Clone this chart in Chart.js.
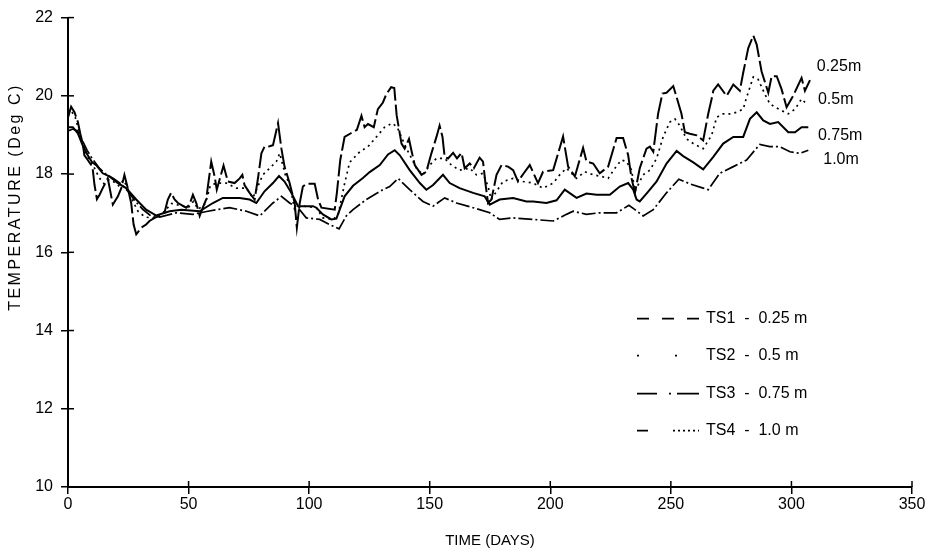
<!DOCTYPE html>
<html>
<head>
<meta charset="utf-8">
<script src="https://cdn.jsdelivr.net/npm/chart.js@4.4.1/dist/chart.umd.min.js"></script>
<style>
html,body{margin:0;padding:0;background:#fff;}
#wrap{width:927px;height:556px;}
</style>
</head>
<body>
<div id="wrap"><canvas id="c" width="927" height="556"></canvas></div>
<script>
// ---- data: [day, temperature (deg C)] ----
const ts1 = [[0,19.45],[1.3,19.72],[2.7,19.58],[4.1,19.33],[5.1,19.03],[6.1,18.78],[6.8,18.48],[8.2,18.36],[9.6,18.23],[10.3,18.10],
[11,17.72],[12,17.36],[13.1,17.47],[14.4,17.64],[16.5,17.89],[18.6,17.22],[20.7,17.43],[22.1,17.64],[23.4,17.98],[24.8,17.64],
[26.2,17.26],[27.2,16.71],[28.3,16.46],[30.4,16.63],[32.4,16.71],[33.8,16.80],[35.9,16.88],[38,16.93],[40,17.01],[41.4,17.35],
[42.8,17.52],[44.2,17.35],[45.6,17.26],[49,17.14],[50.4,17.22],[51.8,17.47],[53.2,17.26],[54.6,16.93],[55.9,17.14],[57.3,17.35],
[59.4,18.32],[60.8,17.94],[61.7,17.60],[64.5,18.22],[66.3,17.81],[69.1,17.77],[71.2,17.89],[72.3,17.98],[73.2,17.72],[75.3,17.52],
[77.4,17.35],[78.8,17.90],[80.2,18.53],[81.5,18.70],[83.6,18.71],[85,18.74],[87.1,19.30],[88.5,18.65],[89.8,18.19],[91.9,17.77],
[94,17.26],[94.9,16.63],[96.1,17.26],[97.4,17.68],[98.8,17.75],[102.3,17.75],[103.7,17.35],[105.1,17.14],[110.6,17.09],[111.5,17.52],
[112.9,18.36],[114.7,18.95],[117.5,19.05],[119.8,19.13],[121.7,19.49],[123,19.20],[124.4,19.28],[126.8,19.20],[128.5,19.66],[130.6,19.83],
[132,20.04],[134,20.22],[135.3,20.20],[136.3,19.50],[138.3,18.78],[139.6,18.65],[141.4,18.90],[142.4,18.61],[143.8,18.23],[146.6,17.98],
[148.6,18.06],[150.7,18.53],[152.8,18.95],[154.1,19.24],[155.3,18.95],[156.2,18.44],[157.6,18.40],[159.7,18.54],[161.3,18.40],[163.2,18.54],
[164.5,18.15],[166.6,18.27],[168.3,18.15],[170.7,18.42],[172.1,18.32],[173.2,17.72],[174.2,17.26],[175.6,17.35],[177.7,17.98],[179.8,18.23],
[182.5,18.19],[184.6,18.10],[186.6,17.81],[189,18.02],[191.5,18.23],[194.9,17.77],[197,18.06],[201.2,18.10],[205.3,18.96],[207.4,18.19],
[210.2,17.94],[213.6,18.67],[215,18.32],[217.8,18.27],[220.5,18.02],[224,18.19],[227.5,18.92],[230.2,18.92],[232.3,18.48],[233.7,17.89],
[235.1,17.52],[237.1,18.15],[239.9,18.65],[241.3,18.70],[242.7,18.57],[244.7,19.54],[246.5,20.06],[248.2,20.08],[251,20.25],[252.4,19.96],
[254.4,19.54],[255.8,19.07],[257.9,19.03],[260.7,18.99],[263.4,18.86],[265.5,19.54],[266.9,19.92],[267.6,20.13],[269.6,20.29],[273.1,20.00],
[275.9,20.29],[278.6,20.13],[280,20.59],[282.1,21.22],[284.2,21.54],[285.6,21.31],[287.6,20.63],[290.4,20.08],[291.8,20.50],[293.9,20.50],
[295.9,20.17],[298,19.71],[300.7,20.00],[304.2,20.46],[305.6,20.13],[307.7,20.40]];

const ts2 = [[0,19.5],[1.5,19.6],[3,19.45],[5,19.0],[7,18.6],[9,18.35],[11,18.15],[13,17.9],[15,17.75],[17,17.85],
[19,17.8],[21,17.7],[23,17.85],[25,17.6],[27,17.3],[29,17.05],[32,16.9],[35,16.88],[38,16.92],[40,17.05],
[43,17.25],[46,17.2],[50,17.15],[52,17.3],[54,17.1],[57,17.25],[59,17.7],[61.5,17.77],[65.6,17.77],[69.8,17.64],
[74,17.64],[76.7,17.39],[80.8,17.98],[84.3,18.19],[86.4,18.32],[87.8,18.53],[90.5,17.89],[91.7,17.81],[94,17.09],[97.4,17.18],
[103,17.14],[105.7,16.88],[109.9,16.84],[112,16.95],[114.5,17.7],[116.8,18.3],[121,18.57],[124.4,18.70],[127.9,18.95],[131.3,19.2],
[134.5,19.3],[136.5,19.2],[140,18.7],[144.5,18.15],[147.2,17.98],[150,18.23],[152.8,18.40],[156.2,18.40],[159,18.23],[162.4,18.10],
[166.6,18.15],[169.4,17.98],[172.1,18.02],[174.2,17.68],[175.5,17.35],[180.4,17.81],[184.6,17.89],[188.7,17.81],[192.9,17.77],[197,17.64],
[201.2,17.77],[203.9,17.98],[206.7,18.15],[210.9,17.89],[214.3,18.06],[217.8,17.98],[221.2,17.94],[224,17.89],[226.8,18.15],[229.5,18.36],
[231.6,18.32],[233.7,18.10],[235.1,17.56],[238.5,17.98],[241.3,18.10],[244.1,18.40],[246.8,18.95],[249.6,19.33],[251.7,19.41],[253.7,19.24],
[256.5,18.9],[259.3,18.78],[263.4,18.65],[266.9,18.99],[269,19.45],[271.7,19.54],[274.5,19.54],[277.3,19.58],[280,19.66],[281.4,19.96],
[284.2,20.48],[286.2,20.42],[289,20.04],[291.1,19.79],[295,19.65],[298.7,19.54],[301.5,19.66],[304.2,19.92],[306.3,19.79]];

const ts3 = [[0,19.2],[2,19.2],[4,19.05],[6,18.75],[8,18.5],[10,18.3],[11.7,18.23],[14.4,18.02],[17.2,17.94],[20.7,17.77],
[24.1,17.64],[28.3,17.35],[32.4,17.09],[36.6,16.94],[42.1,17.05],[47,17.09],[54.6,17.05],[60.1,17.26],[64.2,17.39],[67,17.39],
[71.2,17.39],[75.3,17.35],[78.1,17.26],[81.5,17.56],[85,17.77],[87.5,17.95],[89.8,17.81],[92.6,17.52],[95.4,17.18],[98.8,17.18],
[101.6,17.18],[103,17.14],[105.7,16.97],[109.2,16.84],[111.3,16.86],[114.7,17.43],[118.2,17.7],[122.3,17.9],[125.1,18.05],[129.3,18.23],
[132.7,18.5],[135.5,18.61],[137.6,18.48],[141.7,18.10],[145.9,17.77],[148.6,17.60],[151.4,17.72],[155.5,17.98],[158.3,17.77],[162.4,17.64],
[168,17.52],[172.8,17.43],[174.9,17.22],[179,17.35],[184.6,17.39],[190.1,17.30],[192.9,17.30],[198.4,17.26],[202.6,17.33],[206,17.60],
[210.9,17.39],[215,17.50],[219.2,17.47],[224.7,17.47],[228.8,17.68],[232.3,17.77],[234.4,17.60],[235.8,17.35],[237.1,17.30],[240.6,17.55],
[244.1,17.81],[248.2,18.27],[252.4,18.59],[255.1,18.46],[259.3,18.30],[263.4,18.12],[267.6,18.44],[271.7,18.78],[275.9,18.95],[280,18.95],
[282.8,19.41],[285.6,19.58],[288.3,19.37],[291.1,19.28],[294.5,19.33],[298.7,19.07],[301.5,19.07],[304.2,19.20],[307,19.20]];

const ts4 = [[0,19.1],[2,19.15],[4,19.1],[6,18.85],[8,18.6],[10,18.4],[13,18.15],[16,17.98],[19,17.88],[22,17.75],
[25,17.55],[28,17.3],[31,17.1],[34,16.95],[38,16.9],[44.9,17.01],[51.8,16.97],[58,17.05],[61.5,17.09],[67,17.14],
[74,17.05],[79.5,16.93],[85,17.26],[88.5,17.43],[91.9,17.26],[95.4,17.14],[98.8,16.88],[104.4,16.84],[108.5,16.71],[112.4,16.6],
[115.4,16.93],[118.2,17.09],[123.7,17.35],[130.6,17.60],[133.4,17.68],[136.9,17.89],[141.7,17.60],[147.2,17.30],[151.4,17.18],[156.2,17.39],
[161.1,17.26],[168,17.14],[174.9,17.01],[179,16.84],[184.6,16.88],[192.9,16.84],[201.2,16.80],[206.7,16.97],[209.5,17.05],[215,16.97],
[220.5,17.01],[227.5,17.01],[232.6,17.2],[235.1,17.09],[238.5,16.93],[242.7,17.09],[248.2,17.52],[253.3,17.87],[257.9,17.75],[263.4,17.64],
[265.5,17.60],[270.3,18.02],[275.9,18.19],[281.4,18.36],[286.9,18.76],[291,18.70],[295.2,18.70],[299.4,18.57],[303.5,18.53],[307,18.61]];

const seriesNames = ['TS1','TS2','TS3','TS4'];
const depthLabels = ['0.25 m','0.5 m','0.75 m','1.0 m'];
const endLabels = ['0.25m','0.5m','0.75m','1.0m'];
const xTickValues = [0,50,100,150,200,250,300,350];
const yTickValues = [10,12,14,16,18,20,22];

// ---- styles ----
const FONT = '"Liberation Sans", Arial, Helvetica, sans-serif';
const lineDash = [[22,4],[2,4],[],[14,3,2,3]];
const lineWidths = [2,1.7,2,1.7];
const legendDash = [[12,13],[2,36],[20,12,2,6,22],[11,25,2,3,2,3,2,3,2,3,2,3]];
const endLabelAt = [[310.5,20.74],[311,19.9],[311,18.98],[313.2,18.38]];

const allSeries = [ts1,ts2,ts3,ts4];

const decor = {
  id:'decor',
  afterDraw(chart){
    const {ctx, chartArea:a, scales:{x,y}} = chart;
    ctx.save();
    ctx.strokeStyle = '#000';
    ctx.lineWidth = 1.5;
    ctx.setLineDash([]);
    // inner halves of the crossing tick marks
    x.ticks.forEach(t=>{
      const px = x.getPixelForValue(t.value);
      ctx.beginPath(); ctx.moveTo(px,a.bottom); ctx.lineTo(px,a.bottom-6); ctx.stroke();
    });
    y.ticks.forEach(t=>{
      const py = y.getPixelForValue(t.value);
      ctx.beginPath(); ctx.moveTo(a.left,py); ctx.lineTo(a.left+6,py); ctx.stroke();
    });
    ctx.fillStyle = '#000';
    ctx.font = '16px ' + FONT;
    ctx.textBaseline = 'middle';
    ctx.textAlign = 'left';
    // depth labels at the right end of the curves
    endLabels.forEach((lab,i)=>{
      ctx.fillText(lab, x.getPixelForValue(endLabelAt[i][0]), y.getPixelForValue(endLabelAt[i][1]));
    });
    // legend inside plot
    const lx0 = a.left + 569, lx1 = a.left + 631, tx = a.left + 638;
    const rows = [a.top + 301, a.top + 338, a.top + 376, a.top + 413];
    seriesNames.forEach((nm,i)=>{
      ctx.save();
      ctx.lineWidth = 1.6;
      ctx.setLineDash(legendDash[i]);
      ctx.beginPath(); ctx.moveTo(lx0, rows[i]); ctx.lineTo(lx1, rows[i]); ctx.stroke();
      ctx.restore();
      ctx.fillText(nm + '  -  ' + depthLabels[i], tx, rows[i]);
    });
    // y axis title
    ctx.save();
    ctx.translate(16, 197);
    ctx.rotate(-Math.PI/2);
    ctx.textAlign = 'center';
    ctx.font = '16px ' + FONT;
    try { ctx.letterSpacing = '2.5px'; } catch(e) {}
    ctx.fillText('TEMPERATURE (Deg C)', 0, 0);
    ctx.restore();
    ctx.restore();
  }
};

const datasets = allSeries.map((s,i)=>({
  label: seriesNames[i] + ' - ' + depthLabels[i],
  data: s.map(p=>({x:p[0], y:p[1]})),
  borderColor:'#000',
  borderWidth: lineWidths[i],
  borderDash: lineDash[i],
  pointRadius:0,
  fill:false,
  tension:0
}));

const tickFont = {family: FONT, size:16};

new Chart(document.getElementById('c').getContext('2d'), {
  type:'line',
  data:{datasets},
  options:{
    responsive:false,
    animation:false,
    devicePixelRatio:1,
    layout:{padding:{left:0,right:15,top:11,bottom:0}},
    plugins:{legend:{display:false}, tooltip:{enabled:false}},
    scales:{
      x:{
        type:'linear', min:0, max:350,
        afterBuildTicks(s){ s.ticks = xTickValues.map(v=>({value:v})); },
        ticks:{color:'#000', font:tickFont, padding:1, maxRotation:0, autoSkip:false},
        grid:{drawOnChartArea:false, drawTicks:true, tickLength:7, color:'#000', lineWidth:1.5},
        border:{color:'#000', width:2},
        title:{display:true, text:'TIME (DAYS)', color:'#000', font:{family:FONT, size:15}, padding:{top:0,bottom:6}},
        afterFit(s){ s.height = 69; }
      },
      y:{
        type:'linear', min:10, max:22,
        afterBuildTicks(s){ s.ticks = yTickValues.map(v=>({value:v})); },
        ticks:{color:'#000', font:tickFont, padding:8},
        grid:{drawOnChartArea:false, drawTicks:true, tickLength:7, color:'#000', lineWidth:1.5},
        border:{color:'#000', width:2},
        afterFit(s){ s.width = 68; }
      }
    }
  },
  plugins:[decor]
});
</script>
</body>
</html>
